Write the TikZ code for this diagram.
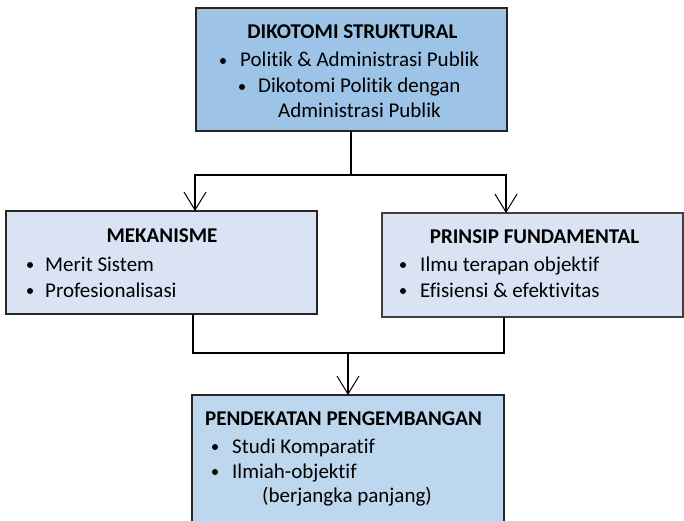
\documentclass[tikz,border=0pt]{standalone}
\usepackage{fontspec}
\setmainfont[Ligatures=NoCommon]{Carlito}
\usetikzlibrary{arrows.meta}
\definecolor{topblue}{RGB}{157,195,230}
\definecolor{midblue}{RGB}{218,227,243}
\definecolor{botblue}{RGB}{189,215,238}
\tikzset{
  box/.style={draw=black!85, line width=1.4pt, rectangle},
  txt/.style={anchor=base west, inner sep=0pt, font=\fontsize{21}{25}\selectfont},
  ttl/.style={anchor=base, inner sep=0pt, font=\fontsize{21}{25}\selectfont\bfseries},
  bul/.style={circle, fill=black, inner sep=0pt, minimum size=6pt},
  conn/.style={draw=black, line width=1.2pt},
  arr/.style={conn, -{Straight Barb[length=18pt,width=22pt,line width=1pt]}}
}
\begin{document}
\begin{tikzpicture}[x=1pt,y=-1pt]
\useasboundingbox (0,0) rectangle (684,521);
\clip (0,0) rectangle (684,521);
% boxes
\path[box, fill=topblue] (196,8) rectangle (507,131);
\coordinate (topS) at (351,131);
\path[box, fill=midblue] (6,211) rectangle (317,314);
\coordinate (lefN) at (195,211);
\coordinate (lefS) at (193,314);
\path[box, fill=midblue, draw=black!75] (382,213) rectangle (683,317);
\coordinate (rigN) at (506,213);
\coordinate (rigS) at (504,317);
\path[box, fill=botblue] (192,395) rectangle (504,540);
\coordinate (botN) at (348,395);
% top texts
\node[ttl] (t1) at (352.5,39) {DIKOTOMI STRUKTURAL};
\node[bul] (b1) at (223,61) {};
\node[txt] (t2) at (240,67) {Politik \& Administrasi Publik};
\node[bul] (b2) at (242,87) {};
\node[txt] (t3) at (258,93) {Dikotomi Politik dengan};
\node[txt] (t4) at (278,118) {Administrasi Publik};
% left texts
\node[ttl] (l1) at (162,242) {MEKANISME};
\node[bul] (lb1) at (30,265) {};
\node[txt] (l2) at (45,271) {Merit Sistem};
\node[bul] (lb2) at (30,291) {};
\node[txt] (l3) at (45,297) {Profesionalisasi};
% right texts
\node[ttl] (r1) at (534.5,243) {PRINSIP FUNDAMENTAL};
\node[bul] (rb1) at (403,265) {};
\node[txt] (r2) at (420,271) {Ilmu terapan objektif};
\node[bul] (rb2) at (403,291) {};
\node[txt] (r3) at (420,297) {Efisiensi \& efektivitas};
% bottom texts
\node[ttl, anchor=base west] (p1) at (205,425) {PENDEKATAN PENGEMBANGAN};
\node[bul] (pb1) at (215,447) {};
\node[txt] (p2) at (232,453) {Studi Komparatif};
\node[bul] (pb2) at (215,472) {};
\node[txt] (p3) at (232,478) {Ilmiah-objektif};
\node[txt] (p4) at (262,502) {(berjangka panjang)};
% connectors
\coordinate (split) at (351,175);
\coordinate (merge) at (348,353);
\draw[conn] (topS) -- (split);
\draw[arr] (split) -| (lefN);
\draw[arr] (split) -| (rigN);
\draw[conn] (lefS) |- (merge);
\draw[conn] (rigS) |- (merge);
\draw[arr] (merge) -- (botN);
\end{tikzpicture}
\end{document}
